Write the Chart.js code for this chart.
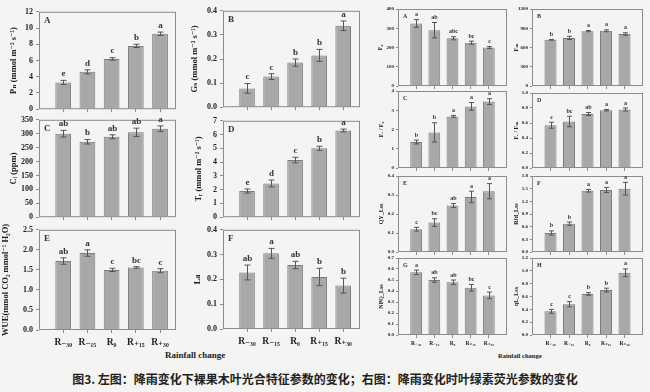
<!DOCTYPE html>
<html>
<head>
<meta charset="utf-8">
<script src="https://cdn.jsdelivr.net/npm/chart.js@4"></script>
<style>
  body { margin: 0; background: #f4f4f3; width: 650px; height: 392px; position: relative; overflow: hidden; }
  canvas { position: absolute; }
  .lbl { position: absolute; font-family: "Liberation Serif", serif; font-weight: bold; white-space: nowrap; color: #222; }
  .cap { font-family: "Noto Sans CJK SC", sans-serif; font-size: 12px; left: 0; width: 650px; text-align: center; top: 370px; }
</style>
</head>
<body>
<div class="lbl" style="left:165px;top:350px;font-size:9px;">Rainfall change</div>
<div class="lbl" style="left:498px;top:352px;font-size:6.5px;">Rainfall change</div>
<div class="lbl cap">图3. 左图：降雨变化下裸果木叶光合特征参数的变化；右图：降雨变化时叶绿素荧光参数的变化</div>
<script>
const categories = ['R₋₃₀', 'R₋₁₅', 'R₀', 'R₊₁₅', 'R₊₃₀'];

// left figure: leaf gas exchange
const pnMean = [3.3, 4.6, 6.2, 7.8, 9.3];
const pnErr  = [0.25, 0.25, 0.15, 0.2, 0.2];
const pnSig  = ['e', 'd', 'c', 'b', 'a'];

const gsMean = [0.078, 0.127, 0.185, 0.215, 0.338];
const gsErr  = [0.02, 0.012, 0.015, 0.025, 0.02];
const gsSig  = ['c', 'c', 'b', 'b', 'a'];

const ciMean = [300, 271, 289, 305, 318];
const ciErr  = [12, 8, 7, 15, 10];
const ciSig  = ['ab', 'b', 'ab', 'ab', 'a'];

const trMean = [1.9, 2.45, 4.15, 5.0, 6.3];
const trErr  = [0.15, 0.25, 0.2, 0.15, 0.1];
const trSig  = ['e', 'd', 'c', 'b', 'a'];

const wueMean = [1.72, 1.92, 1.50, 1.56, 1.48];
const wueErr  = [0.08, 0.08, 0.04, 0.02, 0.05];
const wueSig  = ['ab', 'a', 'c', 'bc', 'c'];

const laMean = [0.228, 0.305, 0.258, 0.21, 0.175];
const laErr  = [0.03, 0.02, 0.015, 0.035, 0.03];
const laSig  = ['ab', 'a', 'ab', 'b', 'b'];

// right figure: chlorophyll fluorescence
const f0Mean = [325, 290, 248, 225, 200];
const f0Err  = [20, 40, 8, 8, 5];
const f0Sig  = ['a', 'ab', 'abc', 'bc', 'c'];

const fmMean = [720, 750, 855, 860, 810];
const fmErr  = [5, 25, 10, 15, 20];
const fmSig  = ['b', 'b', 'a', 'a', 'a'];

const fvf0Mean = [1.35, 1.85, 2.68, 3.2, 3.45];
const fvf0Err  = [0.1, 0.5, 0.05, 0.2, 0.15];
const fvf0Sig  = ['b', 'b', 'a', 'a', 'a'];

const fvfmMean = [0.57, 0.62, 0.72, 0.77, 0.78];
const fvfmErr  = [0.04, 0.07, 0.02, 0.01, 0.02];
const fvfmSig  = ['c', 'bc', 'ab', 'a', 'a'];

const qyMean = [0.12, 0.155, 0.245, 0.29, 0.32];
const qyErr  = [0.01, 0.02, 0.01, 0.03, 0.04];
const qySig  = ['c', 'bc', 'ab', 'a', 'a'];

const rfdMean = [0.45, 0.67, 1.45, 1.47, 1.5];
const rfdErr  = [0.05, 0.04, 0.03, 0.06, 0.15];
const rfdSig  = ['b', 'b', 'a', 'a', 'a'];

const npqMean = [0.57, 0.50, 0.48, 0.43, 0.36];
const npqErr  = [0.02, 0.02, 0.02, 0.03, 0.03];
const npqSig  = ['a', 'ab', 'ab', 'bc', 'c'];

const qlMean = [0.37, 0.48, 0.64, 0.70, 0.97];
const qlErr  = [0.03, 0.04, 0.02, 0.03, 0.06];
const qlSig  = ['c', 'c', 'b', 'b', 'a'];

const SERIF = '"Liberation Serif", "DejaVu Serif", serif';

// box = plot rectangle [left, top, right, bottom], tx = centre x of the axis title,
// xMax = right end of the x axis (bars sit at 1..5)
const panels = [
  { letter: 'A', title: 'Pₙ (mmol m⁻² s⁻¹)', mean: pnMean, err: pnErr, sig: pnSig, max: 12, step: 2, dec: 0, box: [39, 10, 176, 111], xMax: 5.66, yw: 38, tx: 14, big: true },
  { letter: 'B', title: 'Gₛ (mmol m⁻² s⁻¹)', mean: gsMean, err: gsErr, sig: gsSig, max: 0.4, step: 0.1, dec: 1, box: [223, 9, 360, 109], xMax: 5.7, yw: 44, tx: 195, big: true },
  { letter: 'C', title: 'Cᵢ (ppm)', mean: ciMean, err: ciErr, sig: ciSig, max: 350, step: 50, dec: 0, box: [39, 118, 176, 219], xMax: 5.66, yw: 38, tx: 14, big: true },
  { letter: 'D', title: 'Tᵣ (mmol m⁻² s⁻¹)', mean: trMean, err: trErr, sig: trSig, max: 7, step: 1, dec: 0, box: [223, 119, 360, 219], xMax: 5.7, yw: 44, tx: 199, big: true },
  { letter: 'E', title: 'WUE(mmol CO₂ mmol⁻¹ H₂O)', mean: wueMean, err: wueErr, sig: wueSig, max: 2.5, step: 0.5, dec: 1, box: [39, 228, 176, 330], xMax: 5.66, yw: 38, tx: 6, big: true, showX: true },
  { letter: 'F', title: 'La', mean: laMean, err: laErr, sig: laSig, max: 0.4, step: 0.1, dec: 1, box: [223, 228, 360, 329], xMax: 5.7, yw: 44, tx: 198, big: true, showX: true },

  { letter: 'A', title: 'F₀', mean: f0Mean, err: f0Err, sig: f0Sig, max: 400, step: 100, dec: 0, box: [398, 9, 507, 86], xMax: 6, yw: 34, tx: 380 },
  { letter: 'B', title: 'Fₘ', mean: fmMean, err: fmErr, sig: fmSig, max: 1200, step: 300, dec: 0, box: [532, 9, 643, 86], xMax: 6, yw: 22, tx: 516 },
  { letter: 'C', title: 'Fᵥ / F₀', mean: fvf0Mean, err: fvf0Err, sig: fvf0Sig, max: 4, step: 1, dec: 0, box: [398, 91, 507, 168], xMax: 6, yw: 34, tx: 381 },
  { letter: 'D', title: 'Fᵥ / Fₘ', mean: fvfmMean, err: fvfmErr, sig: fvfmSig, max: 1.0, step: 0.2, dec: 1, box: [532, 93, 643, 168], xMax: 6, yw: 22, tx: 516 },
  { letter: 'E', title: 'QY_Lss', mean: qyMean, err: qyErr, sig: qySig, max: 0.4, step: 0.1, dec: 1, box: [398, 176, 507, 252], xMax: 6, yw: 34, tx: 381 },
  { letter: 'F', title: 'Rfd_Lss', mean: rfdMean, err: rfdErr, sig: rfdSig, max: 1.8, step: 0.3, dec: 1, box: [532, 176, 643, 252], xMax: 6, yw: 22, tx: 516 },
  { letter: 'G', title: 'NPQ_Lss', mean: npqMean, err: npqErr, sig: npqSig, max: 0.7, step: 0.1, dec: 1, box: [398, 258, 507, 335], xMax: 6, yw: 34, tx: 381, showX: true },
  { letter: 'H', title: 'qL_Lss', mean: qlMean, err: qlErr, sig: qlSig, max: 1.2, step: 0.2, dec: 1, box: [532, 258, 643, 335], xMax: 6, yw: 22, tx: 516, showX: true }
];

// frame, error bars, significance letters, panel letter
function makeExtras(p) {
  return {
    id: 'extras',
    afterDatasetsDraw(chart) {
      const { ctx, chartArea: a, scales: { y } } = chart;
      const meta = chart.getDatasetMeta(0);
      const cap = p.big ? 3 : 2.5;
      ctx.save();
      ctx.strokeStyle = '#8c8c8c';
      ctx.lineWidth = 1;
      ctx.strokeRect(a.left + 0.5, a.top + 0.5, a.right - a.left - 1, a.bottom - a.top - 1);
      ctx.strokeStyle = '#555';
      ctx.fillStyle = '#333';
      ctx.font = `bold ${p.big ? 9 : 6}px ${SERIF}`;
      ctx.textAlign = 'center';
      ctx.textBaseline = 'bottom';
      p.mean.forEach((v, i) => {
        const px = Math.round(meta.data[i].x) + 0.5;
        const hi = y.getPixelForValue(v + p.err[i]);
        const lo = y.getPixelForValue(v - p.err[i]);
        ctx.beginPath();
        ctx.moveTo(px, hi); ctx.lineTo(px, lo);
        ctx.moveTo(px - cap, hi); ctx.lineTo(px + cap, hi);
        ctx.moveTo(px - cap, lo); ctx.lineTo(px + cap, lo);
        ctx.stroke();
        ctx.fillText(p.sig[i], px, hi - 2);
      });
      ctx.textAlign = 'left';
      ctx.textBaseline = 'top';
      ctx.fillText(p.letter, a.left + 5, a.top + 4);
      ctx.restore();
    }
  };
}

const isCat = v => Number.isInteger(v) && v >= 1 && v <= categories.length;

panels.forEach(p => {
  const [l, t, r, b] = p.box;
  const padTop = 6, padRight = 3;
  const xh = p.showX ? (p.big ? 20 : 12) : 6;
  const left = l - p.yw;
  const canvas = document.createElement('canvas');
  canvas.width = p.yw + (r - l) + padRight;
  canvas.height = padTop + (b - t) + xh;
  canvas.style.left = left + 'px';
  canvas.style.top = (t - padTop) + 'px';
  document.body.appendChild(canvas);

  const titleSize = p.big ? 8.5 : 6;
  new Chart(canvas.getContext('2d'), {
    type: 'bar',
    data: {
      datasets: [{
        data: p.mean.map((v, i) => ({ x: i + 1, y: v })),
        backgroundColor: '#a8a8a8',
        borderColor: '#7c7c7c',
        borderWidth: 1,
        barPercentage: 0.65,
        categoryPercentage: 1
      }]
    },
    options: {
      responsive: false,
      animation: false,
      layout: { padding: { top: padTop, right: padRight, left: 0, bottom: 0 } },
      plugins: { legend: { display: false }, tooltip: { enabled: false } },
      scales: {
        x: {
          type: 'linear',
          min: 0,
          max: p.xMax,
          offset: false,
          grid: {
            display: true, offset: false, drawOnChartArea: false, tickLength: 3,
            color: c => (c.tick && isCat(c.tick.value)) ? '#8c8c8c' : 'rgba(0,0,0,0)'
          },
          border: { display: false },
          ticks: {
            display: !!p.showX,
            stepSize: 1,
            includeBounds: false,
            autoSkip: false,
            maxRotation: 0,
            color: '#222',
            padding: p.big ? 4 : 2,
            font: { family: SERIF, weight: 'bold', size: p.big ? 9.5 : 5.5 },
            callback: v => isCat(v) ? categories[v - 1] : ''
          },
          afterFit: s => { s.height = xh; }
        },
        y: {
          min: 0,
          max: p.max,
          grid: { display: true, drawOnChartArea: false, tickLength: p.big ? 3 : 2, color: '#8c8c8c' },
          border: { display: false },
          ticks: {
            stepSize: p.step,
            color: '#222',
            padding: p.big ? 3 : 2,
            font: { family: SERIF, weight: 'bold', size: p.big ? 8 : 5 },
            callback: v => Number(v).toFixed(p.dec)
          },
          title: {
            display: true,
            text: p.title,
            color: '#222',
            padding: { top: Math.max(0, p.tx - left - titleSize * 0.6), bottom: 0 },
            font: { family: SERIF, weight: 'bold', size: titleSize }
          },
          afterFit: s => { s.width = p.yw; }
        }
      }
    },
    plugins: [makeExtras(p)]
  });
});
</script>
</body>
</html>
